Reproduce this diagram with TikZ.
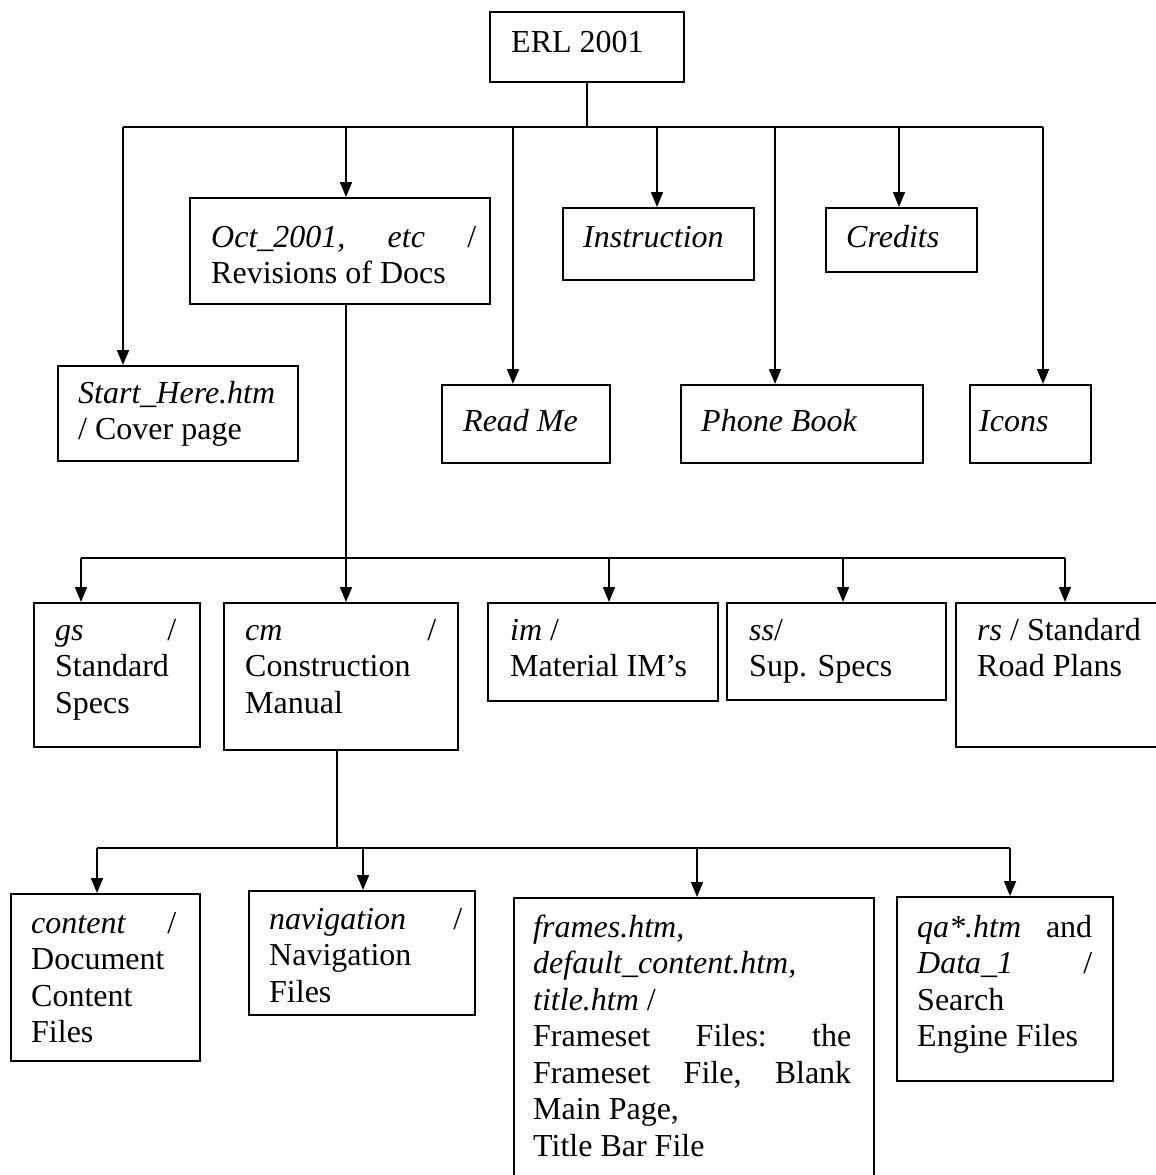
\documentclass[tikz,border=0pt]{standalone}
\usepackage{fontspec}
\setmainfont{Liberation Serif}
\usetikzlibrary{arrows.meta}
\begin{document}
\begin{tikzpicture}[x=1pt,y=-1pt,
  box/.style={draw, line width=1.7pt, inner sep=0pt, anchor=north west},
  txt/.style={anchor=base west, inner sep=0pt, align=flush left, font=\fontsize{32}{36.5}\selectfont},
  link/.style={line width=1.7pt},
  arr/.style={line width=1.7pt, -{Triangle[length=15pt,width=12pt]}}]
\useasboundingbox (0,0) rectangle (1156,1175);

% ---------- top level ----------
\node[box, minimum width=194pt, minimum height=70pt] (erl) at (489,11) {};
\node[txt, text width=170pt] (erl-t) at (511,52) {ERL 2001};

\node[box, minimum width=300pt, minimum height=106pt] (oct) at (189,197) {};
\node[txt, text width=265pt] (oct-t) at (211,247) {\textit{Oct\_2001,}\hfill\textit{etc}\hfill/\\Revisions of Docs};

\node[box, minimum width=191pt, minimum height=72pt] (instr) at (562,207) {};
\node[txt, text width=165pt] (instr-t) at (583,247) {\textit{Instruction}};

\node[box, minimum width=151pt, minimum height=64pt] (cred) at (825,207) {};
\node[txt, text width=125pt] (cred-t) at (846,247) {\textit{Credits}};

\node[box, minimum width=240pt, minimum height=95pt] (start) at (57,365) {};
\node[txt, text width=215pt] (start-t) at (78,403) {\textit{Start\_Here.htm}\\/ Cover page};

\node[box, minimum width=168pt, minimum height=78pt] (read) at (441,384) {};
\node[txt, text width=140pt] (read-t) at (463,431) {\textit{Read Me}};

\node[box, minimum width=242pt, minimum height=78pt] (phone) at (680,384) {};
\node[txt, text width=210pt] (phone-t) at (701,431) {\textit{Phone Book}};

\node[box, minimum width=121pt, minimum height=78pt] (icons) at (969,384) {};
\node[txt, text width=100pt] (icons-t) at (979,431) {\textit{Icons}};

% ---------- second level ----------
\node[box, minimum width=166pt, minimum height=144pt] (gs) at (33,602) {};
\node[txt, text width=121pt] (gs-t) at (55,640) {\textit{gs}\hfill/\\Standard\\Specs};

\node[box, minimum width=234pt, minimum height=147pt] (cm) at (223,602) {};
\node[txt, text width=191pt] (cm-t) at (245,640) {\textit{cm}\hfill/\\Construction\\Manual};

\node[box, minimum width=230pt, minimum height=98pt] (im) at (487,602) {};
\node[txt, text width=195pt] (im-t) at (510,640) {\textit{im} /\\Material IM’s};

\node[box, minimum width=219pt, minimum height=97pt] (ss) at (726,602) {};
\node[txt, text width=185pt] (ss-t) at (749,640) {\textit{ss}/\\Sup. Specs};

\node[box, minimum width=210pt, minimum height=144pt] (rs) at (955,602) {};
\node[txt, text width=175pt] (rs-t) at (977,640) {\textit{rs} / Standard\\Road Plans};

% ---------- third level ----------
\node[box, minimum width=189pt, minimum height=167pt] (content) at (10,893) {};
\node[txt, text width=145pt] (content-t) at (31,933) {\textit{content}\hfill/\\Document\\Content\\Files};

\node[box, minimum width=226pt, minimum height=124pt] (nav) at (248,890) {};
\node[txt, text width=193pt] (nav-t) at (269,929) {\textit{navigation}\hfill/\\Navigation\\Files};

\node[box, minimum width=360pt, minimum height=290pt] (frames) at (513,897) {};
\node[txt, text width=318pt] (frames-t) at (533,937) {\textit{frames.htm,}\\\textit{default\_content.htm,}\\\textit{title.htm} /\\Frameset\hfill Files:\hfill the\\Frameset\hfill File,\hfill Blank\\Main Page,\\Title Bar File};

\node[box, minimum width=216pt, minimum height=184pt] (qa) at (896,896) {};
\node[txt, text width=175pt] (qa-t) at (917,937) {\textit{qa*.htm}\hfill and\\\textit{Data\_1}\hfill/\\Search\\Engine Files};

% ---------- connectors: top ----------
\coordinate (t-trunk) at (586,127);
\coordinate (t-start) at (123,127);
\coordinate (t-oct) at (346,127);
\coordinate (t-read) at (513,127);
\coordinate (t-instr) at (657,127);
\coordinate (t-phone) at (775,127);
\coordinate (t-cred) at (899,127);
\coordinate (t-icons) at (1043,127);
\draw[link] (erl.south) -- (erl.south |- t-trunk);
\draw[link] (t-start) -- (t-icons);
\draw[arr] (t-start) -- (t-start |- start.north);
\draw[arr] (t-oct) -- (t-oct |- oct.north);
\draw[arr] (t-read) -- (t-read |- read.north);
\draw[arr] (t-instr) -- (t-instr |- instr.north);
\draw[arr] (t-phone) -- (t-phone |- phone.north);
\draw[arr] (t-cred) -- (t-cred |- cred.north);
\draw[arr] (t-icons) -- (t-icons |- icons.north);

% ---------- connectors: middle ----------
\coordinate (m-cm) at (346,558);
\coordinate (m-gs) at (81,558);
\coordinate (m-im) at (609,558);
\coordinate (m-ss) at (843,558);
\coordinate (m-rs) at (1065,558);
\draw[arr] (m-cm |- oct.south) -- (m-cm |- cm.north);
\draw[link] (m-gs) -- (m-rs);
\draw[arr] (m-gs) -- (m-gs |- gs.north);
\draw[arr] (m-im) -- (m-im |- im.north);
\draw[arr] (m-ss) -- (m-ss |- ss.north);
\draw[arr] (m-rs) -- (m-rs |- rs.north);

% ---------- connectors: bottom ----------
\coordinate (l-trunk) at (337,848);
\coordinate (l-content) at (97,848);
\coordinate (l-nav) at (363,848);
\coordinate (l-frames) at (697,848);
\coordinate (l-qa) at (1010,848);
\draw[link] (l-trunk |- cm.south) -- (l-trunk);
\draw[link] (l-content) -- (l-qa);
\draw[arr] (l-content) -- (l-content |- content.north);
\draw[arr] (l-nav) -- (l-nav |- nav.north);
\draw[arr] (l-frames) -- (l-frames |- frames.north);
\draw[arr] (l-qa) -- (l-qa |- qa.north);
\end{tikzpicture}
\end{document}
